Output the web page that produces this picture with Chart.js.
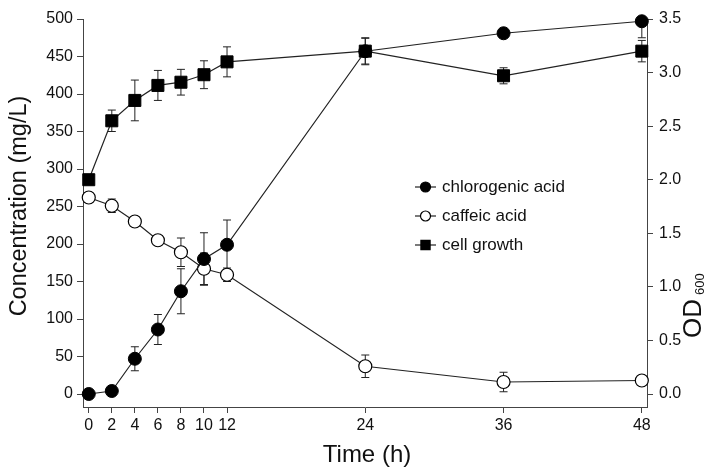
<!DOCTYPE html>
<html>
<head>
<meta charset="utf-8">
<script src="https://cdn.jsdelivr.net/npm/chart.js@4.4.0/dist/chart.umd.min.js"></script>
<style>
  html, body { margin: 0; padding: 0; background: #fff; }
  #wrap { width: 715px; height: 476px; position: relative; }
</style>
</head>
<body>
<div id="wrap"><canvas id="chart"></canvas></div>
<script>
var hours = [0, 2, 4, 6, 8, 10, 12, 24, 36, 48]
var chlorogenic = [0, 4, 47, 86, 137, 180, 199, 457, 481, 497]
var chlorogenicErr = [0, 0, 16, 20, 30, 35, 33, 18, 0, 22]
var caffeic = [262, 251, 230, 205, 189, 167, 159, 37, 16, 18]
var caffeicErr = [6, 9, 0, 0, 19, 21, 9, 15, 13, 0]
var growth = [2.0, 2.55, 2.74, 2.88, 2.91, 2.98, 3.1, 3.2, 2.97, 3.2]
var growthErr = [0, 0.1, 0.19, 0.14, 0.12, 0.13, 0.14, 0.12, 0.075, 0.1]
var concTicks = [0, 50, 100, 150, 200, 250, 300, 350, 400, 450, 500]
var odTicks = [0, 0.5, 1.0, 1.5, 2.0, 2.5, 3.0, 3.5]
var labels = ['chlorogenic acid', 'caffeic acid', 'cell growth']

var FONT = '"Liberation Sans", Arial, sans-serif'
var AXIS = '#444'
var INK = '#111'

function points (ys) {
  var out = []
  for (var i = 0; i < hours.length; i++) out.push({x: hours[i], y: ys[i]})
  return out
}

function fixTicks (list) {
  return function (scale) {
    scale.ticks = list.map(function (v) { return {value: v} })
  }
}

// vertical error bars, drawn under the markers
var errorBars = {
  id: 'errorBars',
  beforeDatasetsDraw: function (chart) {
    var ctx = chart.ctx
    var area = chart.chartArea
    ctx.save()
    ctx.beginPath()
    ctx.rect(area.left - 10, area.top, area.right - area.left + 20, area.bottom - area.top)
    ctx.clip()
    ctx.strokeStyle = '#222'
    ctx.lineWidth = 1
    chart.data.datasets.forEach(function (ds, di) {
      var meta = chart.getDatasetMeta(di)
      var scale = chart.scales[ds.yAxisID]
      ds.errors.forEach(function (err, i) {
        if (!err) return
        var x = meta.data[i].x
        var v = ds.data[i].y
        var top = scale.getPixelForValue(v + err)
        var bot = scale.getPixelForValue(v - err)
        ctx.beginPath()
        ctx.moveTo(x, top); ctx.lineTo(x, bot)
        ctx.moveTo(x - 4, top); ctx.lineTo(x + 4, top)
        ctx.moveTo(x - 4, bot); ctx.lineTo(x + 4, bot)
        ctx.stroke()
      })
    })
    ctx.restore()
  }
}

// legend inside the plot and the axis titles
var decorations = {
  id: 'decorations',
  afterDraw: function (chart) {
    var ctx = chart.ctx
    ctx.save()
    var rows = [187, 216, 245]
    chart.data.datasets.forEach(function (ds, i) {
      var y = rows[i]
      ctx.strokeStyle = '#222'
      ctx.lineWidth = 1.2
      ctx.beginPath(); ctx.moveTo(415, y); ctx.lineTo(436, y); ctx.stroke()
      ctx.fillStyle = ds.pointBackgroundColor
      ctx.strokeStyle = '#000'
      Chart.helpers.drawPoint(ctx, {
        pointStyle: ds.pointStyle, radius: ds.pointStyle === 'rect' ? 6.5 : 5,
        borderWidth: 1.2
      }, 425.5, y)
      ctx.fillStyle = INK
      ctx.font = '17px ' + FONT
      ctx.textAlign = 'left'
      ctx.textBaseline = 'middle'
      ctx.fillText(labels[i], 442, y)
    })

    ctx.fillStyle = INK
    ctx.textAlign = 'center'
    ctx.textBaseline = 'middle'
    ctx.font = '24px ' + FONT
    ctx.fillText('Time (h)', 367, 455)

    ctx.save()
    ctx.translate(20, 206)
    ctx.rotate(-Math.PI / 2)
    ctx.font = '23.5px ' + FONT
    ctx.fillText('Concentration (mg/L)', 0, 0)
    ctx.restore()

    ctx.save()
    ctx.translate(692, 338)
    ctx.rotate(-Math.PI / 2)
    ctx.textAlign = 'left'
    ctx.textBaseline = 'alphabetic'
    ctx.font = '26px ' + FONT
    ctx.fillText('OD', 0, 9)
    var w = ctx.measureText('OD').width
    ctx.font = '13px ' + FONT
    ctx.fillText('600', w + 4, 12)
    ctx.restore()
    ctx.restore()
  }
}

function axisLook () {
  return {
    border: {display: true, color: AXIS, width: 1},
    grid: {display: true, drawOnChartArea: false, drawTicks: true, tickLength: 6, color: AXIS, lineWidth: 1}
  }
}

var xAxis = axisLook()
xAxis.type = 'linear'
xAxis.min = -0.5
xAxis.max = 48.45
xAxis.afterBuildTicks = fixTicks(hours)
xAxis.afterFit = function (s) { s.height = 69 }
xAxis.ticks = {color: INK, font: {family: FONT, size: 16}, padding: 3, autoSkip: false, maxRotation: 0}

var yAxis = axisLook()
yAxis.position = 'left'
yAxis.min = -17.33
yAxis.max = 500
yAxis.afterBuildTicks = fixTicks(concTicks)
yAxis.afterFit = function (s) { s.width = 83 }
yAxis.ticks = {color: INK, font: {family: FONT, size: 16}, padding: 4}

var y2Axis = axisLook()
y2Axis.position = 'right'
y2Axis.min = -0.1213
y2Axis.max = 3.5
y2Axis.afterBuildTicks = fixTicks(odTicks)
y2Axis.afterFit = function (s) { s.width = 68 }
y2Axis.ticks = {color: INK, font: {family: FONT, size: 16}, padding: 6,
  callback: function (v) { return v.toFixed(1) }}

new Chart(document.getElementById('chart'), {
  type: 'line',
  data: {
    datasets: [
      {label: labels[0], data: points(chlorogenic), errors: chlorogenicErr, yAxisID: 'y',
        borderColor: '#222', borderWidth: 1.2, pointStyle: 'circle', pointRadius: 6.5,
        pointBackgroundColor: '#000', pointBorderColor: '#000', pointBorderWidth: 1, clip: false},
      {label: labels[1], data: points(caffeic), errors: caffeicErr, yAxisID: 'y',
        borderColor: '#222', borderWidth: 1.2, pointStyle: 'circle', pointRadius: 6.5,
        pointBackgroundColor: '#fff', pointBorderColor: '#000', pointBorderWidth: 1.2, clip: false},
      {label: labels[2], data: points(growth), errors: growthErr, yAxisID: 'y2',
        borderColor: '#222', borderWidth: 1.2, pointStyle: 'rect', pointRadius: 8.5,
        pointBackgroundColor: '#000', pointBorderColor: '#000', pointBorderWidth: 1, clip: false}
    ]
  },
  options: {
    responsive: true,
    maintainAspectRatio: false,
    animation: false,
    layout: {padding: {top: 19, left: 0, right: 0, bottom: 0}},
    plugins: {legend: {display: false}, tooltip: {enabled: false}},
    scales: {x: xAxis, y: yAxis, y2: y2Axis}
  },
  plugins: [errorBars, decorations]
})
</script>
</body>
</html>
